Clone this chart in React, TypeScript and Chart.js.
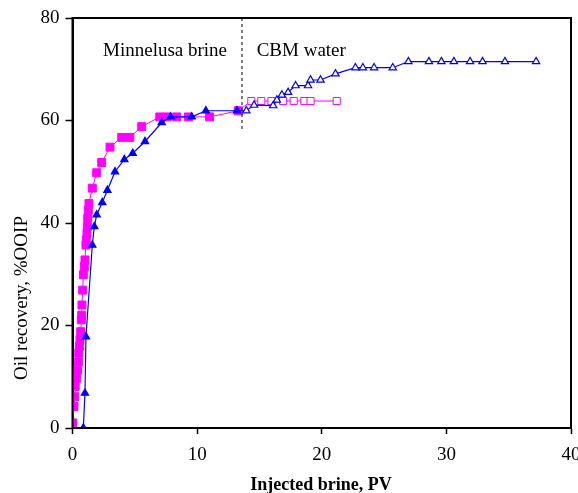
import React, { useEffect, useRef } from "react";
import { Chart, registerables } from "chart.js";

Chart.register(...registerables);

// Minnelusa brine injection (filled markers)
const brinePV_A = [0.02, 0.12, 0.18, 0.22, 0.34, 0.42, 0.47, 0.5, 0.55, 0.6, 0.66, 0.71, 0.74, 0.76, 0.82, 0.87, 0.95, 1.0, 1.08, 1.11, 1.16, 1.19, 1.22, 1.27, 1.32, 1.59, 1.94, 2.34, 3.01, 3.95, 4.6, 5.55, 7.0, 7.6, 8.36, 9.3, 11.0, 13.3];
const brineRec_A = [1.0, 4.2, 6.1, 8.1, 9.7, 11.3, 12.9, 14.6, 15.9, 17.2, 18.8, 21.1, 22.0, 24.0, 26.9, 29.9, 31.5, 32.8, 35.7, 36.7, 38.0, 39.3, 40.9, 42.5, 43.8, 46.8, 49.8, 51.8, 54.8, 56.7, 56.7, 58.8, 60.7, 60.7, 60.7, 60.7, 60.7, 61.9];
// CBM water injection, core A (open squares)
const cbmPV_A = [14.35, 15.15, 15.96, 16.9, 17.75, 18.6, 19.1, 21.2];
const cbmRec_A = [63.8, 63.8, 63.8, 63.8, 63.8, 63.8, 63.8, 63.8];

// Minnelusa brine injection, core B (filled triangles)
const brinePV_B = [0.87, 1.0, 1.08, 1.59, 1.75, 1.94, 2.39, 2.8, 3.41, 4.16, 4.83, 5.82, 7.16, 7.88, 9.57, 10.7, 13.2];
const brineRec_B = [0, 6.8, 17.8, 35.7, 39.3, 41.6, 44.0, 46.4, 50.0, 52.4, 53.6, 55.9, 59.6, 60.7, 60.7, 61.9, 61.9];
// CBM water injection, core B (open triangles)
const cbmPV_B = [13.95, 14.57, 16.1, 16.4, 16.8, 17.3, 17.9, 18.9, 19.1, 19.9, 21.1, 22.7, 23.3, 24.2, 25.7, 26.95, 28.6, 29.6, 30.6, 31.9, 32.9, 34.7, 37.2];
const cbmRec_B = [61.9, 63.0, 62.9, 64.0, 65.0, 65.5, 66.8, 66.8, 67.9, 67.9, 69.1, 70.3, 70.3, 70.3, 70.3, 71.5, 71.5, 71.5, 71.5, 71.5, 71.5, 71.5, 71.5];

// switch-over marker and region labels
const switchPV = 13.6;
const switchRange = [80, 57.8];
const regionLabels = ["Minnelusa brine", "CBM water"];
const regionLabelPV = [2.45, 14.78];
const regionLabelY = 72.5;

const xTicks = [0, 10, 20, 30, 40];
const yTicks = [0, 20, 40, 60, 80];
const xTitle = "Injected brine, PV";
const yTitle = "Oil recovery, %OOIP";

const FONT = "'Liberation Serif', 'Times New Roman', serif";

function pts(xs: number[], ys: number[]) {
  return xs.map((x, i) => ({ x, y: ys[i] }));
}

export default function App() {
  const ref = useRef<HTMLCanvasElement | null>(null);
  useEffect(() => {
    document.body.style.margin = "0";
    const canvas = ref.current!;
    const MAG = "#ff00ff";
    const BLUE = "#0000ff";

    const magData = [...pts(brinePV_A, brineRec_A), ...pts(cbmPV_A, cbmRec_A)];
    const magBg = [...brinePV_A.map(() => MAG), ...cbmPV_A.map(() => "#ffffff")];
    const magR = [...brinePV_A.map(() => 5.6), ...cbmPV_A.map(() => 5)];
    const blueData = [...pts(brinePV_B, brineRec_B), ...pts(cbmPV_B, cbmRec_B)];
    const blueBg = [...brinePV_B.map(() => BLUE), ...cbmPV_B.map(() => "#ffffff")];

    const framePlugin = {
      id: "frame",
      afterDraw(chart: any) {
        const { ctx, chartArea: a, scales } = chart;
        ctx.save();
        ctx.strokeStyle = "#000";
        ctx.lineWidth = 2;
        ctx.strokeRect(a.left, a.top, a.right - a.left, a.bottom - a.top);
        ctx.fillStyle = "#000";
        ctx.font = `19px ${FONT}`;
        ctx.textBaseline = "alphabetic";
        ctx.textAlign = "left";
        regionLabels.forEach((t, i) => {
          ctx.fillText(t, scales.x.getPixelForValue(regionLabelPV[i]), scales.y.getPixelForValue(regionLabelY));
        });
        // y title
        ctx.save();
        ctx.translate(27, 298);
        ctx.rotate(-Math.PI / 2);
        ctx.textAlign = "center";
        ctx.font = `19px ${FONT}`;
        ctx.fillText(yTitle, 0, 0);
        ctx.restore();
        // x title
        ctx.textAlign = "center";
        ctx.font = `bold 18px ${FONT}`;
        ctx.fillText(xTitle, 321, 490);
        ctx.restore();
      },
    };

    const chart = new Chart(canvas, {
      type: "scatter",
      data: {
        datasets: [
          {
            data: blueData,
            showLine: true,
            borderColor: BLUE,
            borderWidth: 1.2,
            pointStyle: "triangle",
            pointRadius: 4.2,
            pointBorderWidth: 1.2,
            pointBorderColor: BLUE,
            pointBackgroundColor: blueBg,
            order: 1,
          },
          {
            data: magData,
            showLine: true,
            borderColor: MAG,
            borderWidth: 1,
            pointStyle: "rect",
            pointRadius: magR,
            pointBorderWidth: 1,
            pointBorderColor: MAG,
            pointBackgroundColor: magBg,
            order: 2,
          },
          {
            data: switchRange.map((y) => ({ x: switchPV, y })),
            showLine: true,
            borderColor: "#000",
            borderWidth: 1,
            borderDash: [3, 3],
            pointRadius: 0,
            order: 0,
          },
        ],
      } as any,
      options: {
        animation: false,
        responsive: false,
        maintainAspectRatio: false,
        layout: { padding: { top: 18, right: 7, left: 0, bottom: 0 } },
        plugins: { legend: { display: false }, tooltip: { enabled: false } },
        scales: {
          x: {
            type: "linear",
            min: 0,
            max: 40,
            afterBuildTicks: (s: any) => {
              s.ticks = xTicks.map((v) => ({ value: v }));
            },
            afterFit: (s: any) => {
              s.height = 65;
              s.paddingLeft = 0;
              s.paddingRight = 0;
            },
            border: { display: true, color: "#000", width: 2 },
            grid: { drawOnChartArea: false, drawTicks: true, tickLength: 6, color: "#000", tickWidth: 1.5 },
            ticks: { color: "#000", font: { family: FONT, size: 19 }, padding: 10, maxRotation: 0 },
          },
          y: {
            type: "linear",
            min: 0,
            max: 80,
            afterBuildTicks: (s: any) => {
              s.ticks = yTicks.map((v) => ({ value: v }));
            },
            afterFit: (s: any) => {
              s.width = 72.5;
              s.paddingTop = 0;
              s.paddingBottom = 0;
            },
            border: { display: true, color: "#000", width: 2 },
            grid: { drawOnChartArea: false, drawTicks: true, tickLength: 7, color: "#000", tickWidth: 1.5 },
            ticks: { color: "#000", font: { family: FONT, size: 19 }, padding: 6 },
          },
        },
      },
      plugins: [framePlugin],
    } as any);
    return () => chart.destroy();
  }, []);

  return (
    <div style={{ position: "absolute", left: 0, top: 0, width: 578, height: 493, background: "#fff" }}>
      <canvas ref={ref} width={578} height={493} style={{ width: 578, height: 493, display: "block" }} />
    </div>
  );
}
